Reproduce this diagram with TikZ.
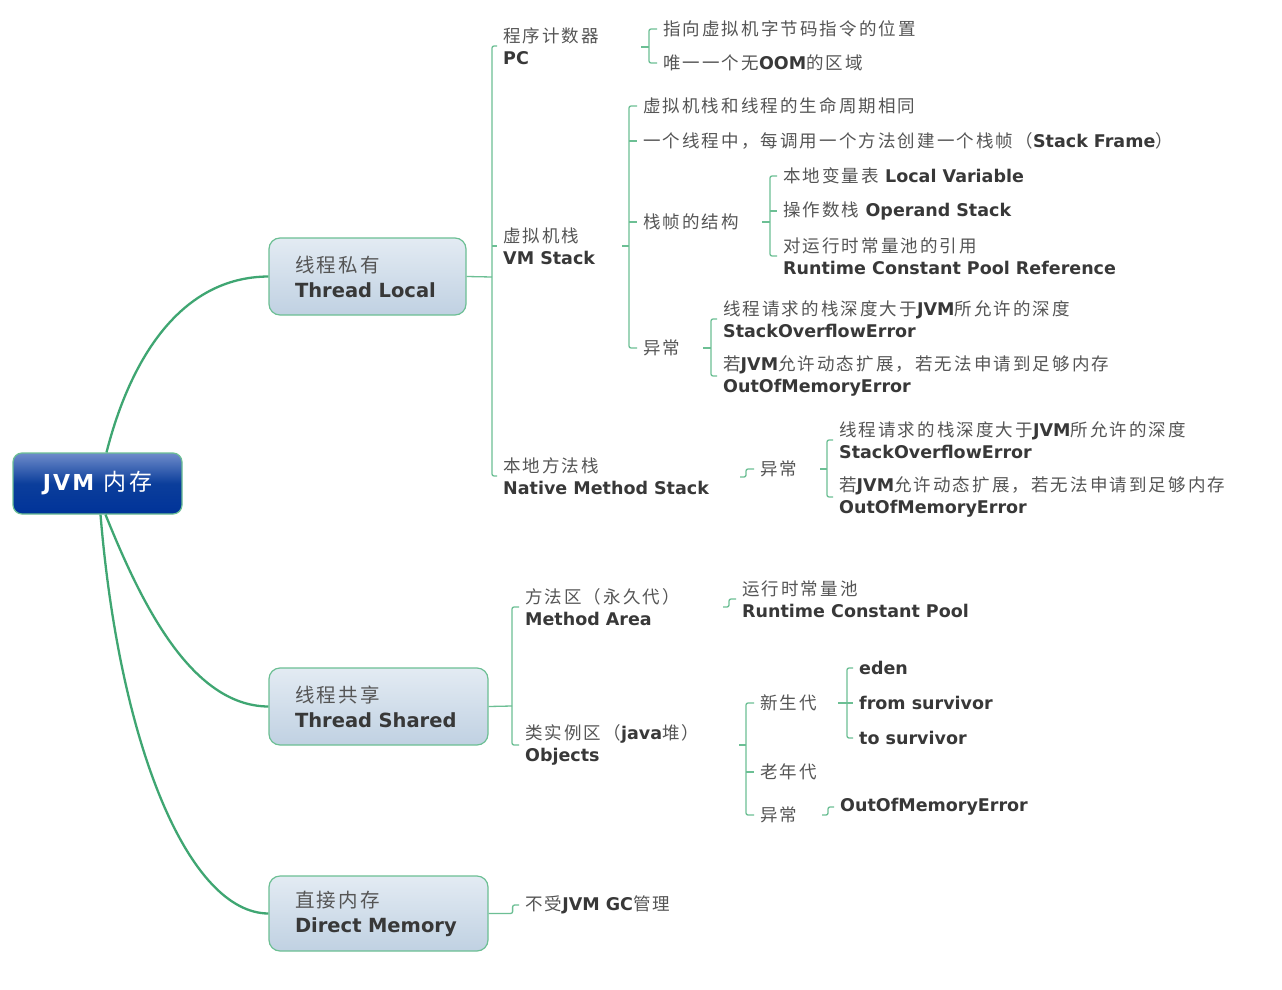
\documentclass[tikz,border=0pt]{standalone}
\usepackage{fontspec}
\setmainfont{DejaVu Sans}
\newfontfamily\cjk[LetterSpace=12]{Noto Sans CJK SC}
\usetikzlibrary{calc}
\definecolor{cgreen}{HTML}{3FA672}
\definecolor{bgreen}{HTML}{6CBF94}
\definecolor{boxtop}{HTML}{E3EBF3}
\definecolor{boxbot}{HTML}{C0D1E2}
\definecolor{zhc}{HTML}{555555}
\definecolor{enc}{HTML}{383838}
\definecolor{roottop}{HTML}{6F8CCB}
\definecolor{rootmid}{HTML}{0B3E9B}
\definecolor{rootbot}{HTML}{003399}
\newcommand\zh[1]{{\cjk\mdseries\color{zhc}#1}}
\tikzset{
  br/.style={draw=bgreen, line width=1.3pt, rounded corners=2pt},
  curve/.style={draw=cgreen, line width=2.3pt},
  leaf/.style={anchor=west, inner xsep=6pt, inner ysep=0pt, align=left,
    font=\fontsize{17.5}{22}\selectfont\bfseries, text=enc},
  mbox/.style={draw=bgreen, line width=1.2pt, rounded corners=11pt,
    top color=boxtop, bottom color=boxbot, inner xsep=26pt, align=left,
    font=\fontsize{19.5}{25}\selectfont\bfseries, text=enc},
  rootbox/.style={draw=bgreen, line width=1.2pt, rounded corners=9pt,
    top color=roottop, bottom color=rootbot, middle color=rootmid,
    minimum width=169pt, minimum height=61pt, text=white,
    font=\fontsize{22}{26}\selectfont\bfseries}
}
\begin{document}
\begin{tikzpicture}[x=1pt,y=-1pt]
\fill[white] (0,0) rectangle (1282,990);
\useasboundingbox (0,0) rectangle (1282,990);

% main boxes
\node[rootbox] (root) at (97.5,483.5) {{\addfontfeature{LetterSpace=10}JVM}\hspace{9pt}{\cjk\mdseries\fontsize{23}{26}\selectfont 内存}};
\node[mbox, text width=145pt, minimum height=77pt] (tl) at (367.5,276.5) {\zh{线程私有}\\Thread Local};
\node[mbox, text width=167pt, minimum height=77pt] (ts) at (378.5,706.5) {\zh{线程共享}\\Thread Shared};
\node[mbox, text width=167pt, minimum height=75pt] (dm) at (378.5,913.5) {\zh{直接内存}\\Direct Memory};

% curves
\draw[curve] ([xshift=9pt]root.north) .. controls (130,360) and (180,277) .. (tl.west);
\draw[curve] ([xshift=8pt]root.south) .. controls (140,600) and (190,706) .. (ts.west);
\draw[curve] ([xshift=3pt]root.south) .. controls (120,750) and (190,913) .. (dm.west);

% Thread Local children
\node[leaf] (pc) at (497,46) {\zh{程序计数器}\\PC};
\node[leaf] (vm) at (497,246) {\zh{虚拟机栈}\\VM Stack};
\node[leaf] (nm) at (497,476) {\zh{本地方法栈}\\Native Method Stack};
\coordinate (bTL) at (492,277);
\draw[br] (tl.east) -- (bTL);
\draw[br] (pc.west) -| (bTL) |- (nm.west);
\draw[br] (bTL |- vm.west) -- (vm.west);

% PC children
\node[leaf] (pc1) at (657,29) {\zh{指向虚拟机字节码指令的位置}};
\node[leaf] (pc2) at (657,63) {\zh{唯一一个无}OOM\zh{的区域}};
\coordinate (pcO) at (641,47);
\coordinate (bPC) at (649,47);
\draw[br] (pcO) -- (bPC);
\draw[br] (pc1.west) -| (bPC) |- (pc2.west);

% VM Stack children
\node[leaf] (vm1) at (637,106) {\zh{虚拟机栈和线程的生命周期相同}};
\node[leaf] (vm2) at (637,141) {\zh{一个线程中，每调用一个方法创建一个栈帧（}Stack Frame\zh{）}};
\node[leaf] (vm3) at (637,222) {\zh{栈帧的结构}};
\node[leaf] (vm4) at (637,348) {\zh{异常}};
\coordinate (vmO) at (622,246);
\coordinate (bVM) at (629,246);
\draw[br] (vmO) -- (bVM);
\draw[br] (vm1.west) -| (bVM) |- (vm4.west);
\draw[br] (bVM |- vm2.west) -- (vm2.west);
\draw[br] (bVM |- vm3.west) -- (vm3.west);

% stack frame structure
\node[leaf] (f1) at (777,176) {\zh{本地变量表} Local Variable};
\node[leaf] (f2) at (777,211) {\zh{操作数栈} Operand Stack};
\node[leaf] (f3) at (777,256) {\zh{对运行时常量池的引用}\\Runtime Constant Pool Reference};
\coordinate (frO) at (762,222);
\coordinate (bFR) at (770,222);
\draw[br] (frO) -- (bFR);
\draw[br] (f1.west) -| (bFR) |- (f3.west);
\draw[br] (bFR |- f2.west) -- (f2.west);

% VM stack exceptions
\node[leaf] (e1) at (717,319) {\zh{线程请求的栈深度大于}JVM\zh{所允许的深度}\\StackOverflowError};
\node[leaf] (e2) at (717,376) {\zh{若}JVM\zh{允许动态扩展，若无法申请到足够内存}\\OutOfMemoryError};
\coordinate (exO) at (703,348);
\coordinate (bEX) at (711,348);
\draw[br] (exO) -- (bEX);
\draw[br] (e1.west) -| (bEX) |- (e2.west);

% native method stack
\node[leaf] (ne) at (754,469) {\zh{异常}};
\coordinate (nmO) at (740,477);
\draw[br] (nmO) -- ++(6,0) |- (ne.west);
\node[leaf] (ne1) at (833,440) {\zh{线程请求的栈深度大于}JVM\zh{所允许的深度}\\StackOverflowError};
\node[leaf] (ne2) at (833,497) {\zh{若}JVM\zh{允许动态扩展，若无法申请到足够内存}\\OutOfMemoryError};
\coordinate (neO) at (820,469);
\coordinate (bNE) at (827,469);
\draw[br] (neO) -- (bNE);
\draw[br] (ne1.west) -| (bNE) |- (ne2.west);

% Thread Shared children
\node[leaf] (ma) at (519,607) {\zh{方法区（永久代）}\\Method Area};
\node[leaf] (ob) at (519,745) {\zh{类实例区（}java\zh{堆）}\\Objects};
\coordinate (bTS) at (512,706);
\draw[br] (ts.east) -- (bTS);
\draw[br] (ma.west) -| (bTS) |- (ob.west);

\node[leaf] (rcp) at (736,599) {\zh{运行时常量池}\\Runtime Constant Pool};
\coordinate (maO) at (723,607);
\draw[br] (maO) -- ++(6,0) |- (rcp.west);

% Objects children
\node[leaf] (y1) at (754,703) {\zh{新生代}};
\node[leaf] (y2) at (754,772) {\zh{老年代}};
\node[leaf] (y3) at (754,815) {\zh{异常}};
\coordinate (obO) at (739,745);
\coordinate (bOB) at (746,745);
\draw[br] (obO) -- (bOB);
\draw[br] (y1.west) -| (bOB) |- (y3.west);
\draw[br] (bOB |- y2.west) -- (y2.west);

\node[leaf] (ed) at (853,668) {eden};
\node[leaf] (fs) at (853,703) {from survivor};
\node[leaf] (tsv) at (853,738) {to survivor};
\coordinate (ygO) at (838,703);
\coordinate (bYG) at (847,703);
\draw[br] (ygO) -- (bYG);
\draw[br] (ed.west) -| (bYG) |- (tsv.west);
\draw[br] (bYG |- fs.west) -- (fs.west);

\node[leaf] (oom) at (834,807) {OutOfMemoryError};
\coordinate (hxO) at (822,815);
\draw[br] (hxO) -- ++(6,0) |- (oom.west);

% Direct memory child
\node[leaf] (gc) at (519,905) {\zh{不受}JVM GC\zh{管理}};
\draw[br] (dm.east) -- ++(24,0) |- (gc.west);
\end{tikzpicture}
\end{document}
